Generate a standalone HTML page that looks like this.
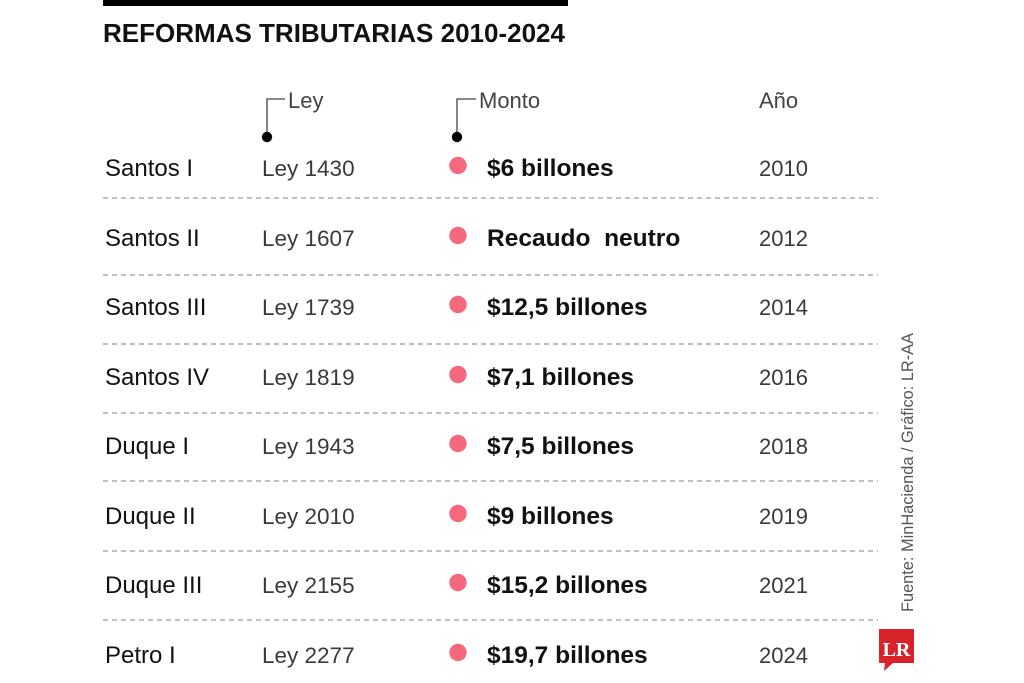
<!DOCTYPE html>
<html>
<head>
<meta charset="utf-8">
<style>
html,body{margin:0;padding:0;background:#fff;}
svg{display:block;}
.name{font-family:"Liberation Sans",sans-serif;font-size:24px;fill:#111;}
.ley{font-family:"Liberation Sans",sans-serif;font-size:22.5px;fill:#3a3a3a;}
.amt{font-family:"Liberation Sans",sans-serif;font-size:24.5px;font-weight:bold;fill:#111;}
.yr{font-family:"Liberation Sans",sans-serif;font-size:22px;fill:#3a3a3a;}
.hd{font-family:"Liberation Sans",sans-serif;font-size:22px;fill:#444;}
</style>
</head>
<body>
<svg width="1024" height="683" viewBox="0 0 1024 683" xmlns="http://www.w3.org/2000/svg">
<rect x="0" y="0" width="1024" height="683" fill="#fff"/>
<rect x="103" y="0" width="465" height="6" fill="#000"/>
<text x="103" y="42" font-family="Liberation Sans, sans-serif" font-size="25.6" font-weight="bold" fill="#111" textLength="462" lengthAdjust="spacingAndGlyphs">REFORMAS TRIBUTARIAS 2010-2024</text>

<!-- headers -->
<polyline points="285,99 267,99 267,137" fill="none" stroke="#444" stroke-width="1.3"/>
<circle cx="267" cy="137" r="5.2" fill="#000"/>
<text class="hd" x="288" y="108">Ley</text>
<polyline points="476,99 457,99 457,137" fill="none" stroke="#444" stroke-width="1.3"/>
<circle cx="457" cy="137" r="5.2" fill="#000"/>
<text class="hd" x="479" y="108">Monto</text>
<text class="hd" x="759" y="108">Año</text>

<!-- dashed lines -->
<g stroke="#808080" stroke-width="1" stroke-dasharray="5 4">
<line x1="103" y1="198" x2="878" y2="198"/>
<line x1="103" y1="275" x2="878" y2="275"/>
<line x1="103" y1="344" x2="878" y2="344"/>
<line x1="103" y1="413" x2="878" y2="413"/>
<line x1="103" y1="481" x2="878" y2="481"/>
<line x1="103" y1="551" x2="878" y2="551"/>
<line x1="103" y1="620" x2="878" y2="620"/>
</g>

<!-- rows -->
<g>
<text class="name" x="105" y="176">Santos I</text>
<text class="ley" x="262" y="176">Ley 1430</text>
<circle cx="458" cy="165.5" r="8.7" fill="#f5687e"/>
<text class="amt" x="487" y="176">$6 billones</text>
<text class="yr" x="759" y="176">2010</text>

<text class="name" x="105" y="246">Santos II</text>
<text class="ley" x="262" y="246">Ley 1607</text>
<circle cx="458" cy="235.5" r="8.7" fill="#f5687e"/>
<text class="amt" x="487" y="246" xml:space="preserve">Recaudo  neutro</text>
<text class="yr" x="759" y="246">2012</text>

<text class="name" x="105" y="315">Santos III</text>
<text class="ley" x="262" y="315">Ley 1739</text>
<circle cx="458" cy="304.5" r="8.7" fill="#f5687e"/>
<text class="amt" x="487" y="315">$12,5 billones</text>
<text class="yr" x="759" y="315">2014</text>

<text class="name" x="105" y="385">Santos IV</text>
<text class="ley" x="262" y="385">Ley 1819</text>
<circle cx="458" cy="374.5" r="8.7" fill="#f5687e"/>
<text class="amt" x="487" y="385">$7,1 billones</text>
<text class="yr" x="759" y="385">2016</text>

<text class="name" x="105" y="454">Duque I</text>
<text class="ley" x="262" y="454">Ley 1943</text>
<circle cx="458" cy="443.5" r="8.7" fill="#f5687e"/>
<text class="amt" x="487" y="454">$7,5 billones</text>
<text class="yr" x="759" y="454">2018</text>

<text class="name" x="105" y="524">Duque II</text>
<text class="ley" x="262" y="524">Ley 2010</text>
<circle cx="458" cy="513.5" r="8.7" fill="#f5687e"/>
<text class="amt" x="487" y="524">$9 billones</text>
<text class="yr" x="759" y="524">2019</text>

<text class="name" x="105" y="593">Duque III</text>
<text class="ley" x="262" y="593">Ley 2155</text>
<circle cx="458" cy="582.5" r="8.7" fill="#f5687e"/>
<text class="amt" x="487" y="593">$15,2 billones</text>
<text class="yr" x="759" y="593">2021</text>

<text class="name" x="105" y="663">Petro I</text>
<text class="ley" x="262" y="663">Ley 2277</text>
<circle cx="458" cy="652.5" r="8.7" fill="#f5687e"/>
<text class="amt" x="487" y="663">$19,7 billones</text>
<text class="yr" x="759" y="663">2024</text>
</g>

<!-- source -->
<text x="0" y="0" transform="translate(913,612) rotate(-90)" font-family="Liberation Sans, sans-serif" font-size="16.5" fill="#555" textLength="279" lengthAdjust="spacingAndGlyphs">Fuente: MinHacienda / Gráfico: LR-AA</text>

<!-- LR logo -->
<path d="M879,629 H914 V663 H893 L884,671 L885,663 H879 Z" fill="#d8232a"/>
<text x="896.5" y="656" text-anchor="middle" font-family="Liberation Serif, serif" font-weight="bold" font-size="20" fill="#fff">LR</text>
</svg>
</body>
</html>
